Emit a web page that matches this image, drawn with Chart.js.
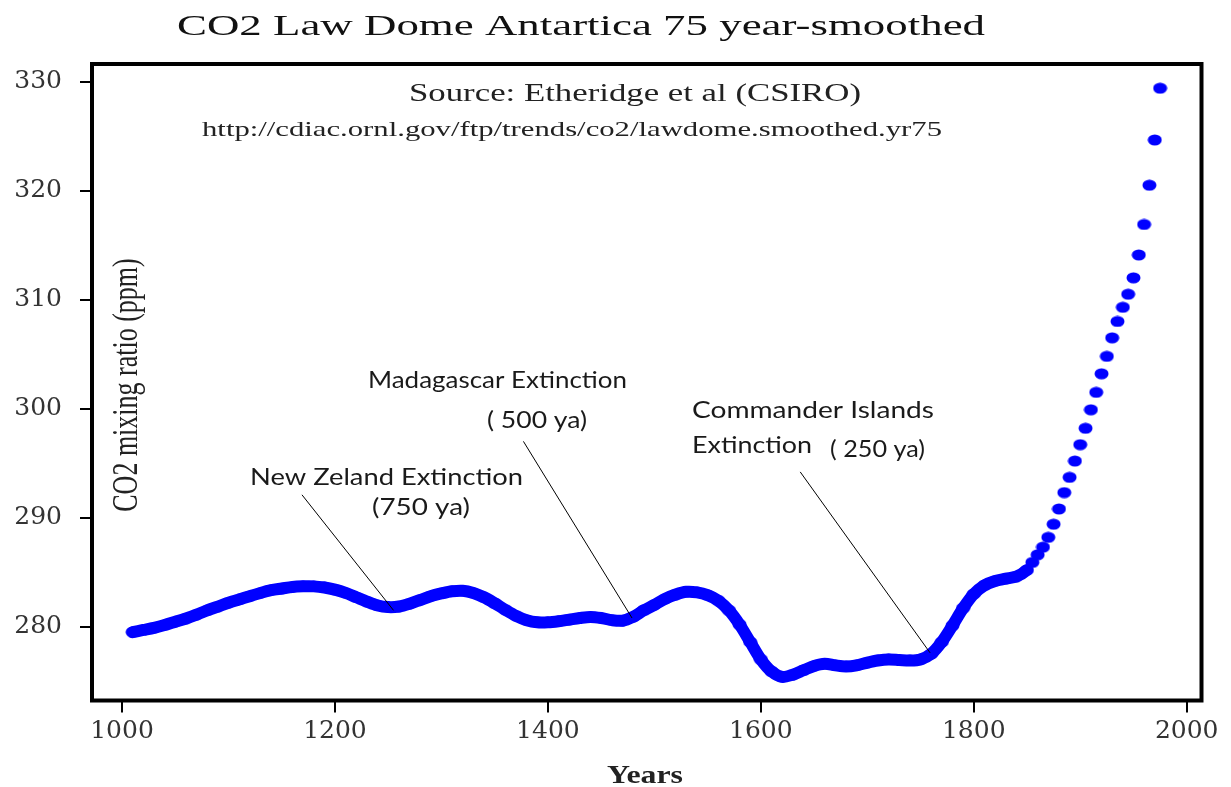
<!DOCTYPE html>
<html>
<head>
<meta charset="utf-8">
<title>CO2 Law Dome Antartica 75 year-smoothed</title>
<script src="https://cdn.jsdelivr.net/npm/chart.js@4.4.0/dist/chart.umd.min.js"></script>
<style>
  html, body { margin: 0; padding: 0; background: #fff; }
  #wrap { width: 1231px; height: 787px; }
</style>
</head>
<body>
<div id="wrap"><canvas id="co2Chart"></canvas></div>
<script>
// Law Dome 75-year smoothed CO2 (ppm)
const years = [
  1010, 1020, 1030, 1040, 1050, 1060, 1070, 1080, 1090, 1100,
  1110, 1120, 1130, 1140, 1150, 1160, 1170, 1180, 1190, 1200,
  1210, 1220, 1230, 1240, 1250, 1260, 1270, 1280, 1290, 1300,
  1310, 1320, 1330, 1340, 1350, 1360, 1370, 1380, 1390, 1400,
  1410, 1420, 1430, 1440, 1450, 1460, 1470, 1480, 1490, 1500,
  1510, 1520, 1530, 1540, 1550, 1560, 1570, 1580, 1590, 1600,
  1610, 1620, 1630, 1640, 1650, 1660, 1670, 1680, 1690, 1700,
  1710, 1720, 1730, 1740, 1750, 1760, 1770, 1780, 1790, 1800,
  1810, 1820, 1830, 1840, 1850, 1855, 1860, 1865, 1870, 1875,
  1880, 1885, 1890, 1895, 1900, 1905, 1910, 1915, 1920, 1925,
  1930, 1935, 1940, 1945, 1950, 1955, 1960, 1965, 1970, 1975
];
const co2 = [
  279.5, 279.7, 279.9, 280.15, 280.45, 280.75, 281.1, 281.5, 281.85, 282.2,
  282.5, 282.8, 283.1, 283.35, 283.5, 283.65, 283.7, 283.7, 283.6, 283.4,
  283.1, 282.7, 282.3, 281.95, 281.8, 281.85, 282.1, 282.45, 282.8, 283.05,
  283.25, 283.3, 283.1, 282.7, 282.15, 281.55, 281.0, 280.6, 280.4, 280.4,
  280.5, 280.65, 280.8, 280.9, 280.8, 280.6, 280.55, 280.9, 281.5, 282.0,
  282.55, 282.95, 283.2, 283.15, 282.9, 282.4, 281.5, 280.2, 278.6, 277.0,
  275.9, 275.4, 275.6, 276.0, 276.4, 276.6, 276.45, 276.35, 276.45, 276.7,
  276.9, 277.0, 276.95, 276.9, 277.0, 277.5, 278.6, 280.1, 281.7, 283.0,
  283.8, 284.2, 284.4, 284.6, 285.2, 285.9, 286.6, 287.3, 288.2, 289.4,
  290.8, 292.3, 293.7, 295.2, 296.7, 298.2, 299.9, 301.5, 303.2, 304.8,
  306.5, 308.0, 309.3, 310.5, 312.0, 314.1, 316.9, 320.5, 324.65, 329.4
];
const xTicks = [1000, 1200, 1400, 1600, 1800, 2000];
const yTicks = [280, 290, 300, 310, 320, 330];
// up to this year the samples are so close they merge into one thick band
const denseUntil = 1850;

// leader lines: [year, ppm] of label end and of the point on the curve
const leaders = [
  [[1169, 292.1], [1255, 281.5]],
  [[1377, 297.0], [1479, 280.8]],
  [[1637, 294.2], [1759, 277.6]]
];

// blue dots are a bit wider than tall in the original
function makeDot(w, h, color) {
  const c = document.createElement('canvas');
  c.width = w;
  c.height = h;
  const g = c.getContext('2d');
  g.fillStyle = color;
  g.beginPath();
  g.ellipse(w / 2, h / 2, w / 2 - 0.5, h / 2 - 0.5, 0, 0, Math.PI * 2);
  g.fill();
  return c;
}

// draw text squeezed/stretched to a given width
function fitText(ctx, text, x, y, font, width, align) {
  ctx.save();
  ctx.font = font;
  const k = width / ctx.measureText(text).width;
  ctx.translate(x, y);
  ctx.scale(k, 1);
  ctx.textAlign = align;
  ctx.textBaseline = 'alphabetic';
  ctx.fillText(text, 0, 0);
  ctx.restore();
}

const decorations = {
  id: 'decorations',
  afterDraw(chart) {
    const ctx = chart.ctx;
    const a = chart.chartArea;
    const xs = chart.scales.x, ys = chart.scales.y;

    // frame
    ctx.save();
    ctx.strokeStyle = '#000';
    ctx.lineWidth = 4;
    ctx.strokeRect(a.left, a.top, a.right - a.left, a.bottom - a.top);
    ctx.restore();

    // titles
    ctx.save();
    ctx.fillStyle = '#111';
    fitText(ctx, 'CO2 Law Dome Antartica 75 year-smoothed', 581, 35, '30px "Liberation Serif"', 808, 'center');
    ctx.fillStyle = '#222';
    fitText(ctx, 'Source: Etheridge et al (CSIRO)', 635, 101, '25px "Liberation Serif"', 452, 'center');
    fitText(ctx, 'http://cdiac.ornl.gov/ftp/trends/co2/lawdome.smoothed.yr75', 202, 136, '22px "Liberation Serif"', 740, 'left');
    fitText(ctx, 'Years', 645, 783, 'bold 25px "Liberation Serif"', 76, 'center');

    // y axis title, inside the plot
    ctx.translate(128, 385);
    ctx.rotate(-Math.PI / 2);
    ctx.scale(1, 1.35);
    ctx.font = '26px "Liberation Serif"';
    ctx.textAlign = 'center';
    ctx.textBaseline = 'middle';
    ctx.fillText('CO2 mixing ratio (ppm)', 0, 0);
    ctx.restore();

    // extinction notes
    ctx.save();
    ctx.fillStyle = '#1a1a1a';
    const sans = '23px Lato';
    fitText(ctx, 'Madagascar Extinction', 368, 388, sans, 259, 'left');
    fitText(ctx, '( 500 ya)', 487, 428, sans, 100, 'left');
    fitText(ctx, 'New Zeland Extinction', 250, 485, sans, 273, 'left');
    fitText(ctx, '(750 ya)', 372, 515, sans, 98, 'left');
    fitText(ctx, 'Commander Islands', 692, 418, sans, 242, 'left');
    fitText(ctx, 'Extinction', 692, 453, sans, 120, 'left');
    fitText(ctx, '( 250 ya)', 830, 457, sans, 95, 'left');

    ctx.strokeStyle = '#000';
    ctx.lineWidth = 1;
    leaders.forEach(([p, q]) => {
      ctx.beginPath();
      ctx.moveTo(xs.getPixelForValue(p[0]), ys.getPixelForValue(p[1]));
      ctx.lineTo(xs.getPixelForValue(q[0]), ys.getPixelForValue(q[1]));
      ctx.stroke();
    });
    ctx.restore();
  }
};

const tickFont = { family: '"DejaVu Serif"', size: 25 };
const blue = '#0000ff';

new Chart(document.getElementById('co2Chart'), {
  type: 'scatter',
  data: {
    datasets: [{
      label: 'CO2',
      data: years.map((yr, i) => ({ x: yr, y: co2[i] })),
      pointStyle: makeDot(15, 12, blue),
      pointRadius: 7,
      showLine: true,
      borderColor: blue,
      borderWidth: 12,
      borderCapStyle: 'round',
      borderJoinStyle: 'round',
      tension: 0.3,
      segment: {
        borderColor: c => (c.p0.parsed.x >= denseUntil ? 'rgba(0,0,0,0)' : blue)
      }
    }]
  },
  options: {
    responsive: true,
    maintainAspectRatio: false,
    animation: false,
    events: [],
    layout: { padding: { top: 64, right: 29.5, left: 0, bottom: 0 } },
    plugins: {
      legend: { display: false },
      tooltip: { enabled: false }
    },
    scales: {
      x: {
        type: 'linear',
        min: 971.8,
        max: 2013.9,
        afterBuildTicks: s => { s.ticks = xTicks.map(v => ({ value: v })); },
        afterFit: s => { s.height = 86.5; },
        grid: { drawOnChartArea: false, drawTicks: true, tickLength: 12, color: '#000', lineWidth: 2 },
        border: { display: false },
        ticks: { color: '#333', font: tickFont, padding: 4, maxRotation: 0, callback: v => String(v) }
      },
      y: {
        min: 273.23,
        max: 331.62,
        afterBuildTicks: s => { s.ticks = yTicks.map(v => ({ value: v })); },
        afterFit: s => { s.width = 92; },
        grid: { drawOnChartArea: false, drawTicks: true, tickLength: 12, color: '#000', lineWidth: 2 },
        border: { display: false },
        ticks: { color: '#333', font: tickFont, padding: 18, callback: v => String(v) }
      }
    }
  },
  plugins: [decorations]
});
</script>
</body>
</html>
